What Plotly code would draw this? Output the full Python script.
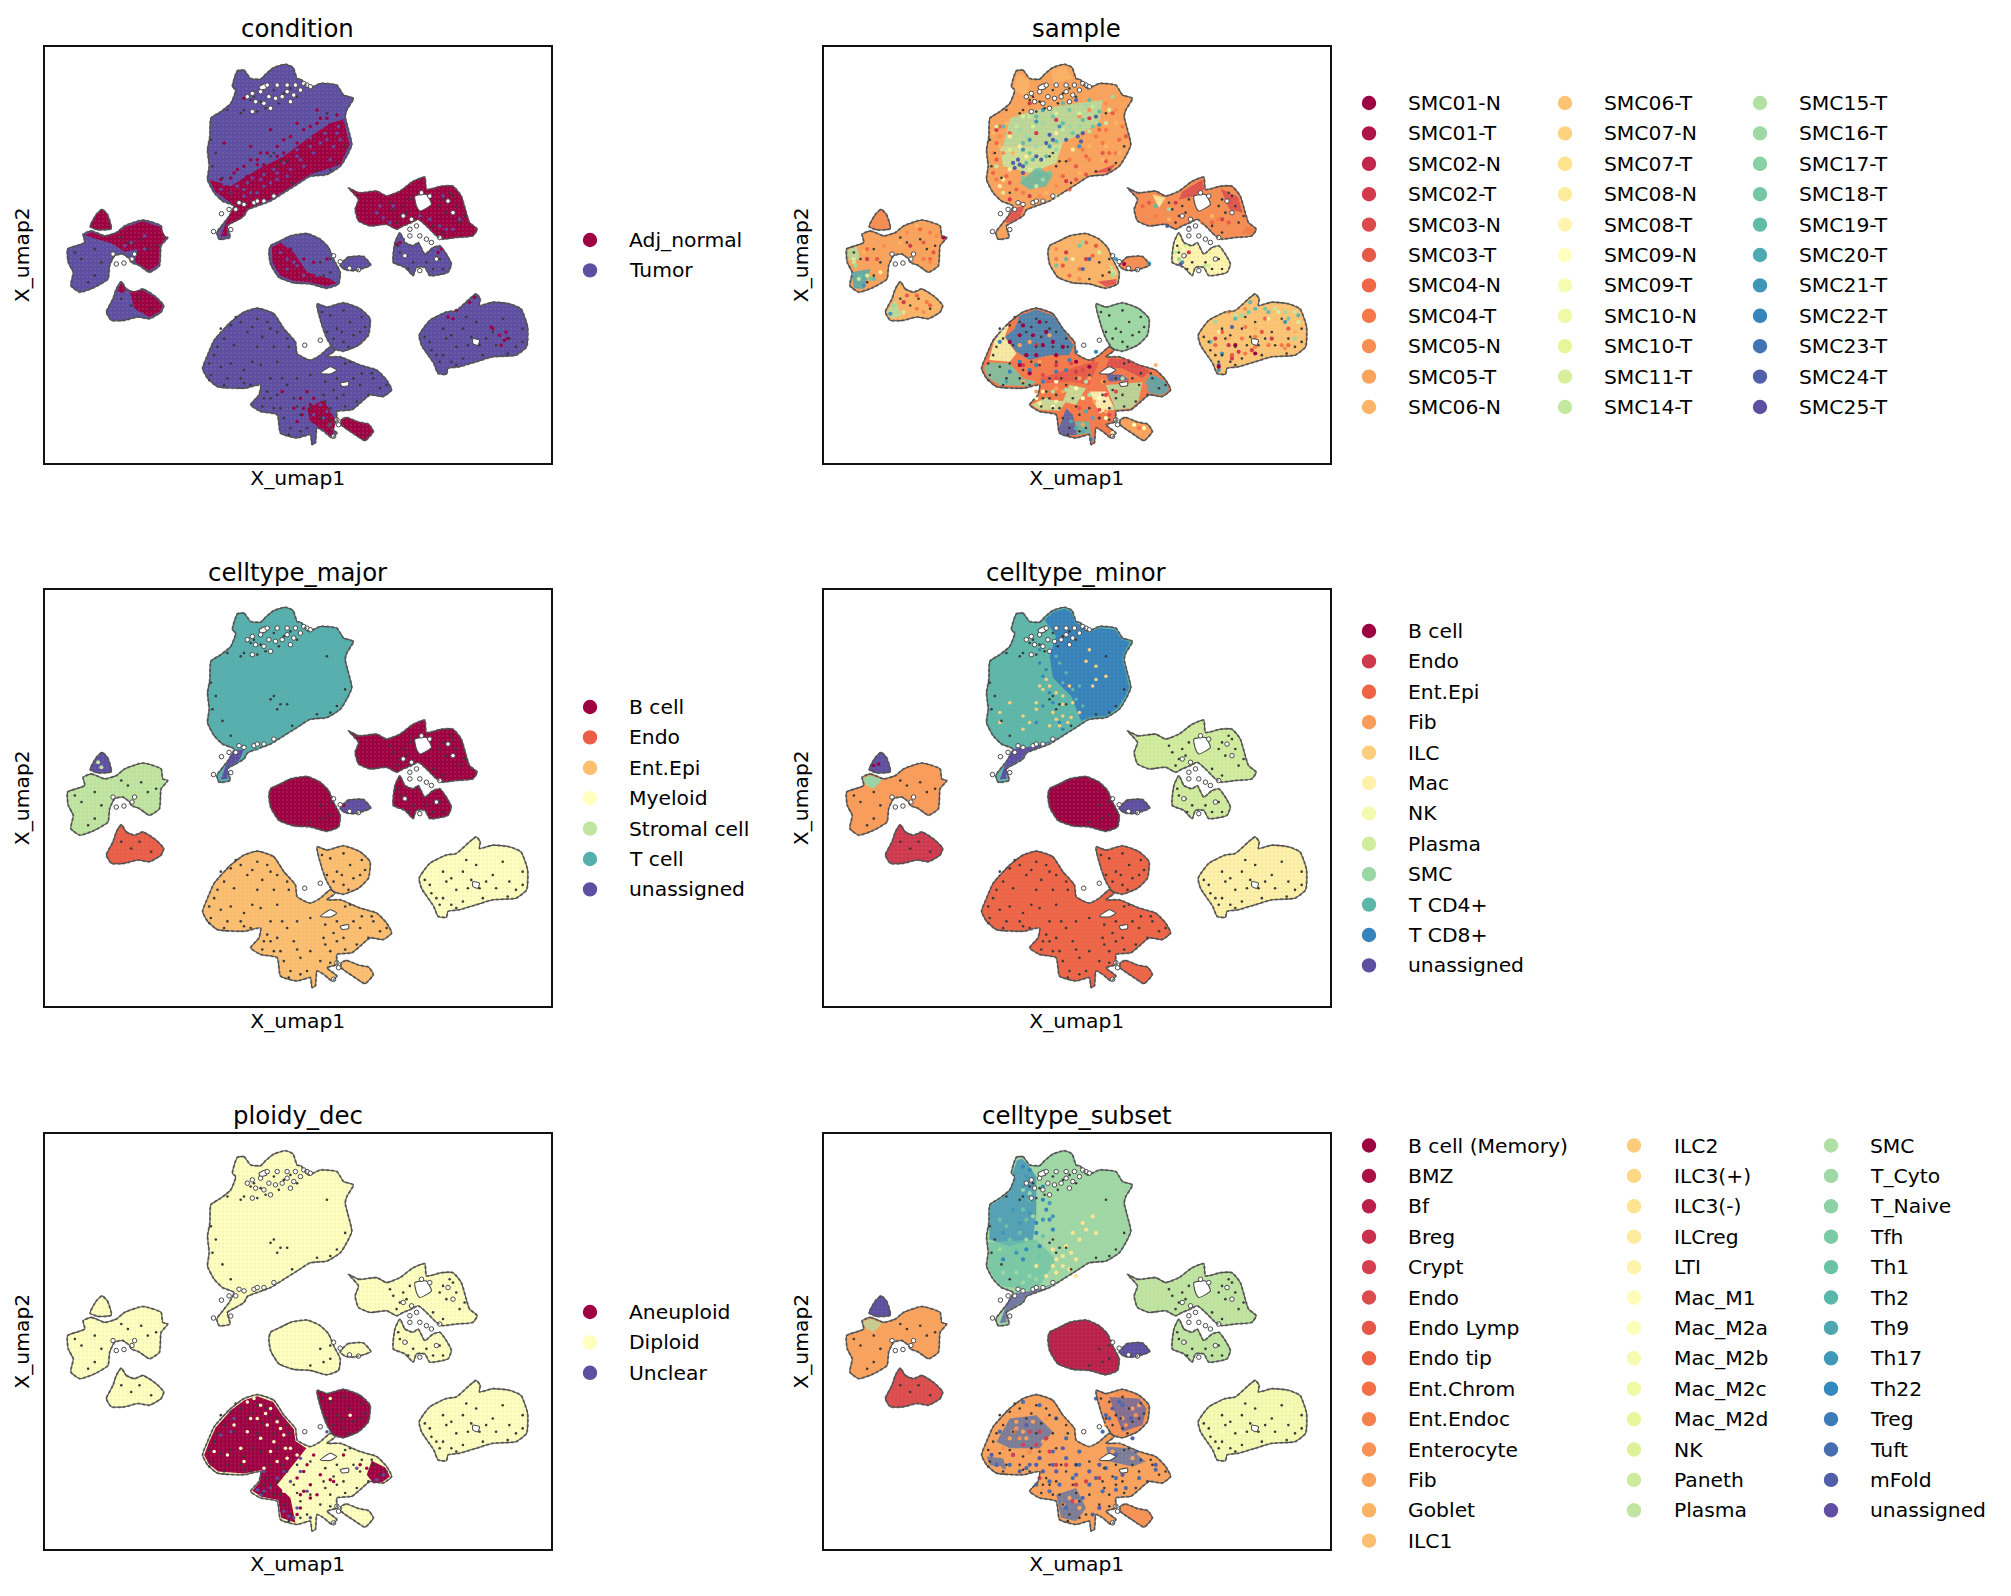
import plotly.graph_objects as go
from plotly.colors import diverging, sample_colorscale
from plotly.subplots import make_subplots

# categories
condition_cats = ["Adj_normal", "Tumor"]
sample_cats = ["SMC01-N", "SMC01-T", "SMC02-N", "SMC02-T", "SMC03-N", "SMC03-T", "SMC04-N", "SMC04-T", "SMC05-N", "SMC05-T", "SMC06-N",
               "SMC06-T", "SMC07-N", "SMC07-T", "SMC08-N", "SMC08-T", "SMC09-N", "SMC09-T", "SMC10-N", "SMC10-T", "SMC11-T", "SMC14-T",
               "SMC15-T", "SMC16-T", "SMC17-T", "SMC18-T", "SMC19-T", "SMC20-T", "SMC21-T", "SMC22-T", "SMC23-T", "SMC24-T", "SMC25-T"]
major_cats = ["B cell", "Endo", "Ent.Epi", "Myeloid", "Stromal cell", "T cell", "unassigned"]
minor_cats = ["B cell", "Endo", "Ent.Epi", "Fib", "ILC", "Mac", "NK", "Plasma", "SMC", "T CD4+", "T CD8+", "unassigned"]
ploidy_cats = ["Aneuploid", "Diploid", "Unclear"]
subset_cats = ["B cell (Memory)", "BMZ", "Bf", "Breg", "Crypt", "Endo", "Endo Lymp", "Endo tip", "Ent.Chrom", "Ent.Endoc", "Enterocyte",
               "Fib", "Goblet", "ILC1", "ILC2", "ILC3(+)", "ILC3(-)", "ILCreg", "LTI", "Mac_M1", "Mac_M2a", "Mac_M2b", "Mac_M2c", "Mac_M2d",
               "NK", "Paneth", "Plasma", "SMC", "T_Cyto", "T_Naive", "Tfh", "Th1", "Th2", "Th9", "Th17", "Th22", "Treg", "Tuft", "mFold",
               "unassigned"]

# cluster outlines (same in every panel)
t_cell = [(580,72),(600,70),(620,95),(650,97),(665,82),(690,62),(725,52),(748,62),(760,95),(772,98),(795,125),(830,110),(880,115),(900,145),
          (930,155),(910,190),(905,210),(915,250),(925,295),(912,325),(890,360),(850,385),(800,390),(760,415),(720,440),(680,465),(640,480),
          (610,492),(600,510),(575,525),(550,540),(558,575),(525,580),(518,560),(540,530),(555,510),(570,480),(535,465),(510,440),(490,400),
          (495,360),(490,310),(497,270),(500,215),(530,195),(560,170),(575,130),(565,120)]
stromal_upper = [(915,425),(945,440),(1000,435),(1030,450),(1070,435),(1110,405),(1145,393),(1150,430),(1195,420),(1230,420),(1255,450),
                 (1270,500),(1280,530),(1303,550),(1290,570),(1240,575),(1200,580),(1180,570),(1150,540),(1125,520),(1105,530),(1080,540),
                 (1060,550),(1030,535),(980,540),(945,525),(935,490),(945,460)]
stromal_lower = [(1070,560),(1085,590),(1110,600),(1125,590),(1145,625),(1170,605),(1190,600),(1210,625),(1225,655),(1215,680),(1160,690),
                 (1145,665),(1120,665),(1110,690),(1085,665),(1050,650),(1055,590)]
b_center = [(680,600),(710,585),(740,570),(790,563),(830,580),(855,605),(870,640),(890,680),(885,715),(850,728),(800,715),(750,712),(705,695),
            (680,655),(675,620)]
b_tail = [(890,660),(912,635),(960,632),(982,658),(960,668),(930,675),(905,672)]
left_triangle = [(172,490),(188,505),(200,548),(160,552),(136,542),(155,505)]
left_main = [(115,565),(140,555),(180,570),(215,560),(240,540),(295,522),(350,540),(355,570),(370,575),(350,600),(345,660),(315,680),(285,660),
             (260,650),(255,640),(235,625),(210,630),(195,660),(190,700),(150,725),(105,740),(78,720),(85,680),(70,650),(68,610),(100,598),(120,590)]
left_lower = [(230,708),(245,730),(270,740),(295,730),(335,755),(358,780),(350,800),(315,820),(280,815),(240,825),(200,825),(185,800),(205,760),(215,730)]
mac_cluster = [(1300,745),(1312,760),(1310,780),(1350,770),(1400,775),(1435,790),(1455,845),(1452,905),(1420,930),(1350,935),(1300,950),(1250,965),
               (1215,970),(1210,988),(1185,985),(1172,955),(1135,900),(1128,870),(1160,825),(1210,800),(1240,795),(1280,760)]
epi_main = [(640,788),(690,805),(720,850),(755,890),(760,925),(800,945),(830,930),(860,905),(875,915),(850,935),(890,935),(950,960),(1000,975),
            (1030,1005),(1045,1035),(1020,1055),(980,1050),(950,1075),(925,1095),(880,1100),(880,1130),(850,1140),(880,1165),(865,1180),(840,1160),
            (820,1150),(815,1195),(805,1200),(800,1170),(760,1180),(710,1165),(700,1110),(650,1100),(620,1080),(645,1050),(650,1020),(600,1030),
            (520,1025),(490,1000),(475,970),(490,930),(510,885),(560,830),(600,800)]
epi_lobe = [(820,775),(850,785),(900,772),(950,790),(980,820),(975,870),(945,900),(900,918),(870,910),(850,880),(835,840)]
epi_foot = [(893,1125),(910,1118),(945,1132),(975,1138),(990,1160),(965,1188),(935,1170),(905,1150),(893,1140)]
all_clusters = [t_cell, stromal_upper, stromal_lower, b_center, b_tail, left_triangle, left_main, left_lower, mac_cluster, epi_main, epi_lobe, epi_foot]

# empty gaps inside the clusters
gap_polys = [[(1115,450),(1150,445),(1165,475),(1130,495),(1120,480)], [(830,985),(860,965),(880,975),(860,987)],
             [(890,1015),(915,1010),(915,1022),(895,1024)], [(1290,880),(1310,885),(1305,900),(1290,895)], [(645,120),(665,110),(668,125),(650,130)]]
dark_spots = [(630,150),(650,165),(620,160),(690,130),(720,140),(740,125),(705,170),(665,185),(640,195),(600,190),(590,200),(550,190),(500,280),
              (515,320),(505,360),(535,395),(560,440),(690,320),(710,345),(730,345),(680,330),(700,360),(745,410),(820,375),(860,370),(880,350),
              (905,300),(850,200),(760,150),(790,120),(560,840),(590,830),(640,820),(670,830),(610,860),(655,875),(700,860),(730,880),(540,880),
              (510,930),(530,965),(500,990),(550,1000),(590,1000),(620,1020),(600,975),(650,960),(700,950),(680,1000),(730,1020),(700,1050),(660,1060),
              (690,1090),(720,1120),(750,1060),(770,1110),(740,1150),(790,1150),(840,1050),(880,1060),(860,1090),(900,1050),(950,1020),(990,1000),
              (1010,1030),(930,1000),(880,1000),(920,950),(830,1120),(860,810),(880,850),(920,830),(950,860),(870,880),(900,890),(930,870),(1180,930),
              (1190,950),(1160,890),(1210,880),(1240,905),(1275,900),(1285,875),(1310,900),(1330,880),(1360,900),(1400,880),(1420,905),(1440,850),
              (1380,820),(1300,830),(1260,850),(1200,850),(1240,960),(1050,490),(1070,510),(1090,500),(1060,530),(1100,460),(1200,460),(1220,440),
              (1240,480),(1210,500),(1190,480),(1250,530),(1170,540),(1090,630),(1110,650),(1070,620),(1190,640),(1170,670),(1150,650),(830,650),
              (860,680),(840,690),(800,700),(860,640),(230,575),(250,590),(290,580),(310,610),(335,600),(90,620),(110,640),(150,610),(170,650),
              (130,710),(150,690),(230,760),(260,780),(320,790),(285,760),
              (530,850),(575,815),(625,845),(680,850),(520,905),(570,900),(640,905),(690,905),(735,905),(495,955),(560,955),(625,950),(495,1005),
              (540,1020),(600,1015),(670,1040),(715,1000),(760,1000),(800,990),(655,1085),(680,1060),(710,1090),(735,1170),(770,1160),(760,1085),
              (800,1090),(845,1070),(860,1125),(905,955),(955,985),(985,985),(1030,1020),(975,1050),(940,1070),(905,1085),(870,1035),(845,1010),
              (835,800),(900,795),(955,815),(965,845),(895,860),(915,905),(850,860),(1145,875),(1165,915),(1200,930),(1225,950),(1260,940),(1320,930),
              (1395,925),(1440,890),(1350,860),(1270,815),(1225,870),(1080,480),(1040,470),(1200,560),(1265,510),(1230,450),(1065,600),(1095,670),(1200,670)]
ring_spots = [(625,140),(650,135),(670,115),(660,170),(680,185),(715,150),(740,165),(770,130),(625,195),(700,115),(730,115),(755,115),(790,115),
              (600,475),(630,470),(660,465),(690,450),(575,490),(555,490),(532,503),(508,557),(560,551),(1105,520),(1120,540),(1100,550),(1130,570),
              (1150,580),(1165,590),(1190,575),(1100,570),(1135,440),(1160,450),(1130,675),(215,655),(238,652),(262,640),(205,625),(270,625),
              (783,900),(830,885),(880,1125),(885,1140),(870,1175),(870,630),(890,648),(918,668),(945,672),(635,165),(695,155),(750,145),(610,150),
              (730,135),(675,150),(800,120),(780,110),(1080,510),(1215,465),(1230,500),(1085,630),(1180,640),(640,465),(585,470)]

# condition panel
condition_base = ["Tumor"] * 12
condition_regions = [("Adj_normal", [(900,218),(918,295),(890,355),(800,385),(680,460),(610,488),(590,520),(550,535),(550,570),(530,572),(545,530),(570,478),(512,435),(496,400),(560,420),(640,370),(720,330),(800,270),(860,230)]),
                     ("Adj_normal", stromal_upper),
                     ("Adj_normal", [(684,605),(710,590),(750,620),(790,680),(860,700),(880,712),(850,722),(800,710),(750,706),(708,690),(686,650)]),
                     ("Adj_normal", left_triangle),
                     ("Adj_normal", [(120,568),(140,558),(180,573),(215,563),(240,544),(295,526),(348,543),(365,575),(346,600),(342,656),(315,675),(270,648),(280,610),(240,618),(200,592),(150,578)]),
                     ("Adj_normal", [(255,738),(295,734),(333,757),(354,780),(346,798),(315,815),(270,790)]),
                     ("Adj_normal", [(230,712),(243,732),(235,745),(218,735)]),
                     ("Adj_normal", epi_foot),
                     ("Adj_normal", [(790,1090),(840,1065),(878,1130),(865,1178),(845,1160),(800,1130)])]
condition_spots = {
    "Tumor": [(760,330),(800,300),(830,290),(780,360),(740,370),(700,400),(660,420),(640,440),(600,450),(560,440),(530,430),(870,300),(860,340),(890,280),
              (1000,500),(1020,515),(1040,530),(1130,510),(1190,540),(1230,550),(1070,590),(750,650),(770,620),(800,660),(260,590),(300,570),(1080,580),
              (1190,610),(240,600),(1200,450),(730,640),(840,1120),(810,1110),(720,350),(690,370),(650,400),(610,410),(580,420),(620,440),(680,410),(730,390),
              (770,340),(810,320),(850,280),(885,240),(845,260),(880,260),(700,380),(660,385),(625,395),(540,415),(600,430),(760,310),(800,275),(1010,480),
              (1050,480),(1160,520),(1250,520),(1210,550),(300,610),(710,620),(730,600),(760,660),(730,670),(780,690),(820,690),(850,1100),(830,1080),(860,1140)],
    "Adj_normal": [(600,155),(540,290),(620,300),(680,250),(720,280),(760,230),(820,190),(620,340),(580,370),(650,320),(720,320),(680,360),(610,390),(560,395),
                   (530,400),(760,290),(800,240),(830,215),(860,235),(740,610),(780,640),(810,650),(850,640),(1230,820),(1280,770),(1295,755),(1350,850),(1370,870),
                   (1385,885),(1395,880),(1375,900),(1215,815),(1240,795),(770,1060),(780,1090),(790,1040),(760,1130),(715,1040),(1070,590),(1185,620),(640,340),
                   (670,320),(700,300),(740,270),(780,250),(600,360),(570,380),(640,355),(700,330),(660,355),(600,400),(820,230),(850,215),(880,205),(775,1110),
                   (800,1080),(810,1060),(750,1090),(1345,845),(1390,860),(1060,595),(1180,635),(1195,610)]}

# sample panel
sample_base = ["SMC05-T", "SMC05-N", "SMC08-T", "SMC06-N", "SMC05-N", "SMC05-N", "SMC05-T", "SMC06-N", "SMC06-T", "SMC04-T", "SMC16-T", "SMC05-T"]
sample_regions = [("SMC15-T", [(560,215),(640,190),(760,170),(840,160),(830,230),(720,290),(650,300),(540,300)]),
                  ("SMC14-T", [(530,300),(650,300),(720,290),(700,350),(620,380),(540,360)]),
                  ("SMC19-T", [(590,410),(640,365),(690,385),(670,420),(620,430)]),
                  ("SMC06-N", [(583,80),(620,100),(610,150),(572,130)]),
                  ("SMC06-N", [(685,70),(725,57),(750,95),(690,110)]),
                  ("SMC03-N", [(810,380),(880,352),(860,378)]),
                  ("SMC03-N", [(545,525),(575,485),(605,480),(590,518),(552,532)]),
                  ("SMC08-N", [(990,445),(1030,455),(1010,485)]),
                  ("SMC03-N", [(1080,437),(1140,400),(1146,430),(1110,452),(1070,460)]),
                  ("SMC03-N", [(1195,427),(1248,452),(1262,500),(1222,490)]),
                  ("SMC04-T", [(1272,540),(1298,550),(1288,566),(1260,562)]),
                  ("SMC03-N", [(825,708),(882,700),(880,716),(850,724)]),
                  ("SMC14-T", [(860,655),(885,682),(870,700)]),
                  ("SMC20-T", [(82,680),(140,670),(120,730),(90,728)]),
                  ("SMC15-T", [(72,612),(100,602),(108,640),(75,645)]),
                  ("SMC15-T", [(190,800),(215,765),(235,810),(205,820)]),
                  ("SMC22-T", [(590,810),(640,792),(690,810),(722,855),(752,900),(740,930),(680,930),(620,945),(580,920),(545,875),(575,850)]),
                  ("SMC09-T", [(540,848),(558,838),(545,875),(580,925),(560,950),(498,945),(512,890)]),
                  ("SMC18-T", [(482,968),(500,952),(560,955),(600,1000),(640,1010),(620,1024),(530,1020),(494,998)]),
                  ("SMC03-N", [(860,940),(920,942),(983,978),(960,1000),(900,970),(850,965)]),
                  ("SMC24-T", [(850,987),(900,990),(920,1005),(860,1010)]),
                  ("SMC20-T", [(985,987),(1028,1008),(1040,1035),(1020,1050),(980,1045),(970,1010)]),
                  ("SMC15-T", [(850,1020),(960,1012),(948,1070),(925,1090),(880,1095)]),
                  ("SMC14-T", [(625,1080),(660,1062),(730,1070),(710,1098),(650,1095)]),
                  ("SMC24-T", [(730,1090),(750,1110),(765,1170),(720,1175),(707,1155)]),
                  ("SMC19-T", [(760,1130),(800,1130),(808,1190),(800,1165),(762,1172)]),
                  ("SMC03-T", [(650,1000),(790,955),(830,950),(800,1020),(740,1010),(670,1015)]),
                  ("SMC09-N", [(800,1040),(850,1040),(875,1090),(830,1105)]),
                  ("SMC14-T", [(740,1020),(790,1030),(760,1080),(720,1070)])]
sample_spots = {
    "SMC02-T": [(620,170),(700,220),(800,215),(520,250),(640,260),(730,405),(560,460),(620,450),(1060,470),(1200,520),(730,620),(790,640),(1180,880),(1250,920),(1350,880),(260,600),(1100,620),(130,640),(240,770),(700,960),(640,900),(760,980),(600,960),(1220,900),(1290,915),(1230,940)],
    "SMC03-T": [(870,200),(910,270),(840,320),(760,360),(520,340),(560,410),(980,470),(1240,470),(1220,530),(720,660),(820,600),(1200,860),(1320,860),(1400,850),(1230,930),(300,590),(330,620),(160,640),(250,750),(720,1000),(770,1090),(830,1120),(850,345),(790,385),(760,400)],
    "SMC04-T": [(820,270),(850,250),(880,320),(800,340),(740,340),(600,440),(520,400),(1000,510),(1190,520),(770,670),(700,640),(1380,900),(1300,905),(1270,845),(300,640),(320,560),(280,790),(310,770),(950,1150),(780,310),(840,290),(900,240),(1260,880),(1340,900),(1300,875),(1270,925)],
    "SMC04-N": [(530,240),(520,290),(560,260),(550,390),(510,380),(580,430),(790,330),(830,250),(860,320),(890,280),(720,390),(740,430),(960,480),(1170,530),(740,690),(810,630),(790,590),(1180,900),(1330,820),(1400,900),(290,550),(320,640),(130,610),(280,750),(320,780)],
    "SMC05-N": [(510,320),(540,320),(530,270),(880,190),(850,170),(800,190),(770,210),(650,450),(700,420),(1010,520),(960,500),(1140,530),(1230,560),(700,610),(770,700),(1220,800),(1270,790),(1390,910),(340,570),(250,560),(180,600),(320,650),(300,800)],
    "SMC06-N": [(880,230),(840,340),(800,300),(510,260),(530,300),(570,320),(670,440),(1040,520),(1170,510),(800,610),(1220,880),(1300,850),(1420,860),(230,590),(280,540),(120,620),(1000,960),(850,300),(890,320),(770,380),(550,230),(600,135),(720,90)],
    "SMC08-N": [(610,330),(700,260),(560,270),(540,400),(1010,470),(1100,640),(1190,640),(1210,650),(750,640),(1340,820),(1190,860),(170,680),(660,1040),(650,1075),(700,1070),(860,1075),(840,1090),(540,920),(525,900),(560,370),(590,300),(750,310),(530,420)],
    "SMC11-T": [(630,240),(700,200),(770,200),(520,240),(860,190),(1070,610),(1090,600),(1160,660),(830,620),(1430,830),(1370,800),(90,640),(130,690),(240,800),(600,210),(560,310),(620,370),(540,440),(660,340),(700,450)],
    "SMC14-T": [(580,240),(620,210),(720,250),(810,180),(520,360),(850,230),(640,420),(800,255),(1150,660),(1060,620),(1240,810),(1420,800),(1360,790),(105,700),(90,650)],
    "SMC16-T": [(660,230),(590,250),(640,300),(740,240),(790,175),(870,150),(660,400),(1040,490),(1070,640),(870,690),(780,590),(1180,830),(1260,810),(1420,880),(1390,800),(95,660),(210,780),(610,270),(700,310),(770,240)],
    "SMC18-T": [(690,210),(740,190),(650,370),(620,320),(680,380),(600,395),(750,260),(810,240),(1330,790),(1280,800),(1400,820),(700,660),(770,600),(140,700)],
    "SMC19-T": [(600,290),(630,340),(670,330),(720,230),(780,220),(640,210),(540,240),(830,195),(730,640),(1340,800),(1300,790),(1430,810),(1240,820),(1165,890),(1000,480),(110,690),(150,700),(1285,770),(610,350),(650,385),(700,285),(800,160),(720,170)],
    "SMC21-T": [(600,310),(680,300),(770,300),(830,235),(660,190),(1080,650),(1390,830),(1200,925),(1190,975),(880,640),(120,720),(980,653),(200,805),(805,1185),(640,225),(710,240),(620,280)],
    "SMC24-T": [(575,365),(590,355),(600,380),(585,340),(680,265),(670,290),(765,270),(780,260),(730,280),(640,330),(760,160),(820,210),(1035,540),(1075,655),(1100,545),(800,640),(780,670),(1190,960),(1230,845),(570,350),(600,360),(690,280),(775,285),(655,340)],
    "SMC22-T": [(530,890),(560,980),(640,960),(700,980),(760,920),(820,920),(660,1010),(590,950),(620,975),(740,945),(730,975)],
    "SMC01-N": [(590,870),(630,870),(660,900),(690,890),(610,930),(650,830),(700,930),(760,950),(800,965),(590,960),(620,985),(1240,900),(1300,925),(1190,965),(360,575),(905,655),(560,890),(600,840),(670,860),(720,905),(640,930)],
    "SMC05-T": [(720,1040),(770,1000),(800,1000),(700,1030),(780,1140),(850,1100),(640,1040),(600,1010),(620,890),(590,900),(680,870),(650,950),(840,1010),(815,1070),(930,1150),(960,1165),(910,1135)],
    "SMC09-N": [(640,1060),(690,1085),(780,1060),(760,1030),(850,1120),(870,1165),(935,1140),(965,1150),(700,1010),(830,1060)],
    "SMC15-T": [(670,1065),(690,1040),(800,1050),(900,1000),(870,1090),(730,1035),(790,1010)],
    "SMC20-T": [(780,1160),(810,1120),(1000,1000),(790,1100),(745,1130),(760,1150),(550,1010)],
    "SMC03-N": [(745,955),(780,975),(810,945),(700,1000),(660,990),(850,1050),(830,1095),(860,1110),(880,1040)]}

# celltype_major panel
major_base = ["T cell", "B cell", "B cell", "B cell", "unassigned", "unassigned", "Stromal cell", "Endo", "Myeloid", "Ent.Epi", "Ent.Epi", "Ent.Epi"]
major_regions = [("unassigned", [(555,505),(572,482),(600,482),(585,515),(552,535),(550,570),(530,572),(545,530)])]
major_spots = {"Stromal cell": [(160,520),(170,535),(130,570)], "T cell": [(640,478),(660,460)], "B cell": [(900,650)]}

# celltype_minor panel
minor_base = ["T CD4+", "Plasma", "Plasma", "B cell", "unassigned", "unassigned", "Fib", "Endo", "Mac", "Ent.Epi", "Ent.Epi", "Ent.Epi"]
minor_regions = [("T CD8+", [(665,90),(692,66),(725,57),(745,65),(757,98),(770,104),(795,130),(830,115),(878,120),(897,148),(922,158),(905,190),(900,210),(910,250),(920,295),(907,323),(886,356),(850,380),(800,385),(775,395),(745,320),(690,265),(680,200),(700,140)]),
                 ("unassigned", [(555,505),(570,480),(640,470),(700,450),(640,478),(608,490),(598,508),(575,522),(550,536),(550,570),(530,572),(545,530)]),
                 ("SMC", [(118,568),(140,560),(175,573),(150,600),(125,588)])]
minor_spots = {"ILC": [(700,390),(720,380),(735,400),(710,410),(690,370),(745,385),(720,345),(700,310),(680,290),(670,270),(740,290),(790,215),(820,230),(800,180),(820,270),(600,380),(620,400),(560,340),(530,370),(640,340),(650,290),(640,360),(680,410),(600,420),(750,340),(810,290),(660,300),(720,320),(770,370),(530,400),(850,260)],
               "T CD4+": [(700,290),(730,250),(760,330),(770,290),(710,220),(680,170),(720,280),(750,300),(780,350),(730,370),(700,200)],
               "T CD8+": [(650,220),(660,260),(640,400),(690,340),(710,400),(670,240),(680,310),(660,350),(720,420),(650,180)],
               "B cell": [(150,530),(165,525)]}

# ploidy panel
ploidy_base = ["Diploid"] * 10 + ["Aneuploid", "Diploid"]
ploidy_regions = [("Aneuploid", [(495,930),(514,888),(562,834),(602,804),(640,793),(688,810),(716,852),(750,892),(755,928),(788,950),(740,1010),(700,1060),(740,1100),(755,1175),(712,1160),(703,1106),(652,1096),(625,1078),(648,1050),(653,1016),(600,1026),(522,1020),(494,998),(480,970)]),
                  ("Aneuploid", [(985,988),(1026,1008),(1040,1035),(1018,1052),(990,1056),(970,1030)])]
ploidy_spots = {"Diploid": [(610,810),(650,820),(680,830),(640,860),(670,880),(700,870),(720,910),(690,930),(740,950),(650,920),(610,900),(590,950),(550,970),(600,990),(700,990),(760,970),(740,1030),(730,1060),(760,1140),(720,1080),(680,960),(770,1000),(570,880),(620,860),(860,800),(920,850),(510,960),(630,800),(665,845),(710,890),(725,950),(660,1010),(730,980)],
                "Unclear": [(660,1080),(640,1075),(680,1070),(650,1090),(720,1140),(760,1130),(750,1160),(740,1050),(720,1020),(770,1020),(530,910),(570,860),(660,1020),(770,980),(850,900),(800,1160),(790,1080),(940,1010),(735,1155),(700,1040),(560,900),(1020,1030),(1000,1045)],
                "Aneuploid": [(780,1020),(810,970),(800,1060),(830,1030),(780,1080),(800,1100),(860,1045),(870,1050),(950,1000),(970,1010),(820,1090),(770,1130),(900,970),(760,1040),(770,1090),(790,1000),(760,1150)]}

# celltype_subset panel
subset_base = ["T_Cyto", "Plasma", "Plasma", "Bf", "unassigned", "unassigned", "Fib", "Endo", "Mac_M2b", "Fib", "Enterocyte", "Enterocyte"]
subset_regions = [("Th22", [(500,218),(532,198),(562,172),(578,130),(568,120),(582,80),(598,76),(618,98),(640,130),(640,240),(630,320),(560,340),(498,320)]),
                  ("Th1", [(495,328),(640,320),(700,380),(640,476),(600,470),(535,460),(512,436),(494,400),(498,360)]),
                  ("unassigned", [(555,505),(572,482),(640,472),(700,450),(640,478),(608,490),(598,508),(575,522),(550,536),(550,570),(530,572),(545,530)]),
                  ("unassigned", left_triangle),
                  ("SMC", [(118,568),(140,560),(175,573),(150,600),(125,588)]),
                  ("unassigned", b_tail),
                  ("Tuft", [(560,860),(640,850),(690,900),(650,950),(560,950),(520,930)]),
                  ("mFold", [(860,795),(950,800),(972,830),(960,880),(900,900),(880,850)]),
                  ("Tuft", [(850,945),(920,950),(970,990),(930,1005),(860,990)]),
                  ("Tuft", [(700,1090),(760,1070),(790,1130),(760,1170),(715,1160)]),
                  ("Tuft", [(490,975),(540,980),(550,1015),(500,1000)])]
subset_spots = {
    "Th22": [(640,270),(660,200),(650,340),(600,380),(540,380),(660,160),(690,290),(670,230),(610,350),(620,110),(600,100),(680,260),(640,300)],
    "Th1": [(550,280),(600,230),(620,200),(560,320),(660,310),(530,260),(590,300),(610,260),(650,370),(580,350)],
    "T_Cyto": [(580,420),(620,430),(540,420),(640,440),(530,350),(620,180),(600,170),(630,250),(610,320),(655,250),(600,450)],
    "ILC3(-)": [(700,380),(720,400),(740,410),(760,380),(690,350),(730,340),(770,320),(790,290),(810,250),(820,300),(640,400),(670,430),(700,420),(760,430),(720,370),(745,360),(780,270),(750,300),(690,400)],
    "Th17": [(680,210),(690,250),(660,260),(600,160),(620,240),(580,360),(610,130),(590,270),(570,230),(540,300)],
    "Tuft": [(530,900),(600,810),(700,860),(730,920),(560,1000),(620,1000),(690,1000),(730,980),(760,1030),(800,1060),(840,1080),(880,1040),(950,1040),(680,1050),(710,1060),(680,1080),(640,1060),(770,960),(860,860),(900,820),(820,800),(850,850),(940,960),(880,1075),(1000,1015),(780,1100),(750,1040),(650,820),(690,960),(610,1010),(520,1000),(730,1130),(910,1070),(850,1010),(820,1040),(770,1000),(890,810),(840,900)],
    "mFold": [(610,880),(650,980),(720,950),(590,1020),(660,1020),(800,1020),(760,1000),(830,1000),(900,1030),(830,1130),(810,1150),(1000,1000),(870,830),(930,920),(505,970),(640,1000),(700,1020),(570,970),(880,970),(925,860),(900,860)],
    "Fib": [(590,830),(640,810),(690,820),(720,860),(610,920),(630,870),(700,940),(740,960),(800,950),(820,960),(790,1000),(850,1040),(870,1070),(920,1060),(980,1030),(720,1120),(790,1160),(870,1120),(530,1010),(560,920),(600,990),(870,960),(930,980),(900,860),(930,830),(870,790),(680,1010),(770,1060),(660,1090),(600,900),(660,930),(580,870),(740,1100),(770,1130),(850,880),(950,820),(890,940)],
    "Crypt": [(620,900),(650,900),(680,960),(640,940),(700,1000),(730,1000),(760,1060),(790,1050),(570,970),(600,940),(830,1040),(750,1110),(670,920),(620,960),(650,1040)],
    "Enterocyte": [(580,890),(670,860),(570,900),(620,960),(940,850),(910,880),(880,880),(590,920),(540,950),(760,1110)],
    "Mac_M2a": [(1300,880),(1260,900),(1400,830),(1200,900)],
    "Plasma": [(1000,500),(1200,520)]}

subplot_titles = ["condition", "sample", "celltype_major", "celltype_minor", "ploidy_dec", "celltype_subset"]
fig = make_subplots(rows=3, cols=2)

# the page body sits 8px in from the window corner
PAGE_W, PAGE_H, BODY = 2011, 1596, 8
W, H = PAGE_W - 2 * BODY, PAGE_H - 2 * BODY


def to_x(px):
    return (px - BODY) / W


def to_y(py):
    return 1 - (py - BODY) / H


def palette(n):
    return sample_colorscale(diverging.Spectral, n)


def add_poly(pts, color, row, col, outline=False, opacity=1.0, grain=True):
    xs = [p[0] for p in pts] + [pts[0][0]]
    ys = [p[1] for p in pts] + [pts[0][1]]
    pattern = dict(shape=".", size=4, solidity=0.2, fgcolor="rgba(165,165,165,0.38)", bgcolor=color) if grain else None
    if outline:
        fig.add_trace(go.Scatter(x=xs, y=ys, mode="lines", fill="toself", fillcolor=color, fillpattern=pattern,
                                 line=dict(color="#4a4a4a", width=1.1, shape="spline", smoothing=0.5), hoverinfo="skip", showlegend=False), row=row, col=col)
    else:
        fig.add_trace(go.Scatter(x=xs, y=ys, mode="none", fill="toself", fillcolor=color, fillpattern=pattern, opacity=opacity,
                                 hoverinfo="skip", showlegend=False), row=row, col=col)


def add_edge_beads(pts, row, col):
    xs = [p[0] for p in pts] + [pts[0][0]]
    ys = [p[1] for p in pts] + [pts[0][1]]
    fig.add_trace(go.Scatter(x=xs, y=ys, mode="lines", line=dict(color="rgba(85,85,85,0.75)", width=2, dash="3px,2px", shape="spline", smoothing=0.5),
                             hoverinfo="skip", showlegend=False), row=row, col=col)


def add_spots(pts, color, size, row, col, line=None):
    fig.add_trace(go.Scatter(x=[p[0] for p in pts], y=[p[1] for p in pts], mode="markers", marker=dict(color=color, size=size, line=line or dict(width=0)),
                             hoverinfo="skip", showlegend=False), row=row, col=col)


def draw_panel(cats, base, regions, spots, spot_size, row, col, region_opacity=1.0):
    colors = dict(zip(cats, palette(len(cats))))
    for cluster, name in zip(all_clusters, base):
        add_poly(cluster, colors[name], row, col, outline=True)
    for name, poly in regions:
        add_poly(poly, colors[name], row, col, opacity=region_opacity)
    for name, pts in spots.items():
        add_spots(pts, colors[name], spot_size, row, col)
    for poly in gap_polys:
        add_poly(poly, "white", row, col, outline=True, grain=False)
    add_spots(dark_spots, "#3a3a3a", 2.6, row, col)
    add_spots(ring_spots, "white", 4.5, row, col, line=dict(color="#4a4a4a", width=1))
    for cluster in all_clusters:
        add_edge_beads(cluster, row, col)


draw_panel(condition_cats, condition_base, condition_regions, condition_spots, 3.5, 1, 1)
draw_panel(sample_cats, sample_base, sample_regions, sample_spots, 4.2, 1, 2, region_opacity=0.85)
draw_panel(major_cats, major_base, major_regions, major_spots, 4, 2, 1)
draw_panel(minor_cats, minor_base, minor_regions, minor_spots, 3.5, 2, 2)
draw_panel(ploidy_cats, ploidy_base, ploidy_regions, ploidy_spots, 3.5, 3, 1)
draw_panel(subset_cats, subset_base, subset_regions, subset_spots, 4.2, 3, 2, region_opacity=0.7)

# axis lines are drawn just outside the domain, so the edges are pulled in a little
col_edges = {1: (45, 550.5), 2: (824, 1329.5)}
row_edges = {1: (47, 462.5), 2: (590, 1005.5), 3: (1133.5, 1549)}
for row in row_edges:
    for col in col_edges:
        x0, x1 = col_edges[col]
        y0, y1 = row_edges[row]
        fig.update_xaxes(domain=[to_x(x0), to_x(x1)], range=[0, 1524], showticklabels=False, ticks="", showgrid=False, zeroline=False,
                         showline=True, mirror=True, linewidth=2, linecolor="#111", title=dict(text="X_umap1", font=dict(size=20.3, color="black"), standoff=7), row=row, col=col)
        fig.update_yaxes(domain=[to_y(y1), to_y(y0)], range=[1254, 0], showticklabels=False, ticks="", showgrid=False, zeroline=False,
                         showline=True, mirror=True, linewidth=2, linecolor="#111", title=dict(text="X_umap2", font=dict(size=20.3, color="black"), standoff=8), row=row, col=col)

annotations = []
shapes = []
for name, (row, col) in zip(subplot_titles, [(1, 1), (1, 2), (2, 1), (2, 2), (3, 1), (3, 2)]):
    x0, x1 = col_edges[col]
    annotations.append(dict(text=name, x=to_x((x0 + x1) / 2), y=to_y(row_edges[row][0] - 18), xref="paper", yref="paper", xanchor="center", yanchor="middle",
                            showarrow=False, font=dict(size=24.4, color="black")))


def add_legend(cats, mark_x, text_x, top, rows_per_col):
    colors = palette(len(cats))
    start = 0
    for mx, tx, n in zip(mark_x, text_x, rows_per_col):
        for i in range(n):
            py = top + i * 30.4
            shapes.append(dict(type="circle", xref="paper", yref="paper", x0=to_x(mx - 7.2), x1=to_x(mx + 7.2), y0=to_y(py + 7.2), y1=to_y(py - 7.2),
                               fillcolor=colors[start + i], line=dict(width=0)))
            annotations.append(dict(text=cats[start + i], x=to_x(tx), y=to_y(py), xref="paper", yref="paper", xanchor="left", yanchor="middle",
                                    showarrow=False, font=dict(size=20.3, color="black")))
        start += n


add_legend(condition_cats, [590], [627], 240, [2])
add_legend(sample_cats, [1369, 1565, 1760], [1406, 1602, 1797], 103, [11, 11, 11])
add_legend(major_cats, [590], [627], 707, [7])
add_legend(minor_cats, [1369], [1406], 631, [12])
add_legend(ploidy_cats, [590], [627], 1312, [3])
add_legend(subset_cats, [1369, 1634, 1831], [1406, 1672, 1868], 1145.5, [14, 13, 13])

fig.update_layout(width=W, height=H, margin=dict(l=0, r=0, t=0, b=0), plot_bgcolor="white", paper_bgcolor="white", showlegend=False,
                  font=dict(family="DejaVu Sans", color="black"), annotations=annotations, shapes=shapes)

fig.write_html("out.html")
